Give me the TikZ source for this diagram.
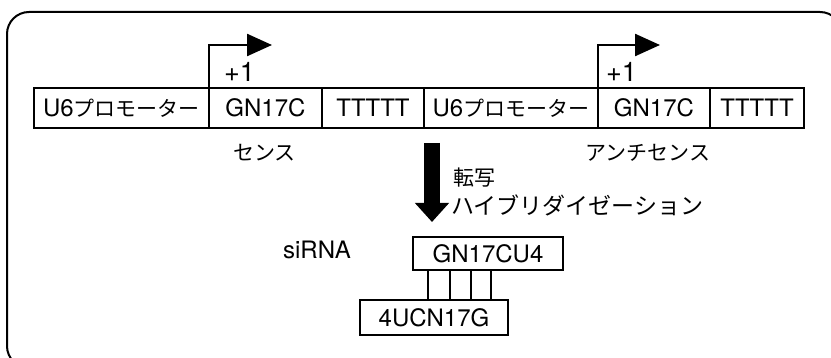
\documentclass[tikz,border=0pt]{standalone}
\usepackage{fontspec}
\setmainfont{TeX Gyre Heros}
\newfontfamily\jpfont{Noto Sans CJK JP}
\usetikzlibrary{positioning,arrows.meta,calc}
\tikzset{
    seg/.style={draw,line width=1.3pt,outer sep=0pt,inner sep=0pt,minimum height=40pt,font=\fontsize{24}{27}\selectfont},
    rnabox/.style={draw,line width=1.3pt,outer sep=0pt,inner sep=0pt,font=\fontsize{24}{27}\selectfont},
    lbl/.style={inner sep=1pt,font=\fontsize{24}{27}\selectfont},
    jplbl/.style={inner sep=1pt,font=\jpfont\fontsize{21}{24}\selectfont},
    tss/.style={line width=2.4pt,-{Triangle[length=25pt,width=22pt]}},
    bigarrow/.style={line width=16pt,-{Triangle[length=19pt,width=33pt]}},
    pair/.style={line width=1.3pt},
    frame/.style={line width=2pt,rounded corners=22pt},
}

\begin{document}
\begin{tikzpicture}[x=1pt,y=-1pt]
    \useasboundingbox (0,0) rectangle (831,358);
    \clip (0,0) rectangle (831,358);
    \draw[frame] (7,12) rectangle (842,368);

    % DNA construct
    \node[seg,minimum width=175pt] (pro1) at (121.5,108) {U6{\jpfont\fontsize{21}{24}\selectfont プロモーター}};
    \node[seg,minimum width=113pt,right=0pt of pro1] (gn1) {GN17C};
    \node[seg,minimum width=102pt,right=0pt of gn1] (tt1) {TTTTT};
    \node[seg,minimum width=174pt,right=0pt of tt1] (pro2) {U6{\jpfont\fontsize{21}{24}\selectfont プロモーター}};
    \node[seg,minimum width=112pt,right=0pt of pro2] (gn2) {GN17C};
    \node[seg,minimum width=94pt,right=0pt of gn2] (tt2) {TTTTT};

    % transcription starts
    \coordinate (tip1) at ($(gn1.north west)+(63,-43)$);
    \coordinate (tip2) at ($(gn2.north west)+(62,-43)$);
    \draw[tss] (gn1.north west) |- (tip1);
    \draw[tss] (gn2.north west) |- (tip2);
    \node[lbl,anchor=west,font=\fontsize{27}{30}\selectfont] (one1) at ($(gn1.north west)+(14,-16)$) {+1};
    \node[lbl,anchor=west,font=\fontsize{27}{30}\selectfont] (one2) at ($(gn2.north west)+(7,-16)$) {+1};

    \node[jplbl] (sense) at ($(gn1.south)+(-1,25)$) {センス};
    \node[jplbl] (anti) at ($(gn2.south)+(-6,25)$) {アンチセンス};

    % transcription / hybridisation
    \coordinate (dtop) at (432,143);
    \coordinate (dbot) at (432,222);
    \draw[bigarrow] (dtop) -- (dbot);
    \node[jplbl,anchor=west] (tensha) at (452,178) {転写};
    \node[jplbl,anchor=west,font=\jpfont\fontsize{23}{26}\selectfont] (hybrid) at (450,205) {ハイブリダイゼーション};

    % siRNA duplex
    \node[rnabox,minimum width=150pt,minimum height=33pt] (srna) at (488,253.5) {GN17CU4};
    \node[rnabox,minimum width=148pt,minimum height=35pt] (arna) at (434,317.5) {4UCN17G};
    \foreach \x in {428,450,471,491}
        \draw[pair] (\x,0 |- srna.south) -- (\x,0 |- arna.north);
    \node[lbl] (sirna) at (317,250) {siRNA};
\end{tikzpicture}
\end{document}
